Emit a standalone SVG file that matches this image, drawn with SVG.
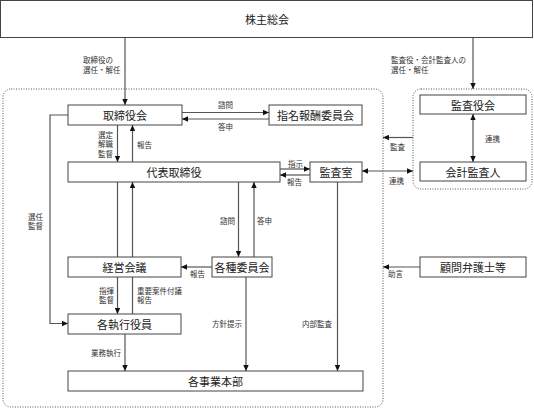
<svg xmlns="http://www.w3.org/2000/svg" width="534" height="409" viewBox="0 0 534 409">
<defs>
<marker id="ah" markerUnits="userSpaceOnUse" markerWidth="6" markerHeight="6" viewBox="0 0 6 6" refX="6" refY="3" orient="auto-start-reverse">
<path d="M0,0.3 L6,3 L0,5.7 Z" fill="#111"/>
</marker>
</defs>
<style>
.box{fill:#fff;stroke:#444;stroke-width:1}
.frame{fill:none;stroke:#555;stroke-width:1;stroke-dasharray:1 1.5}
.bt{font-family:"Noto Sans CJK JP","Noto Sans",sans-serif;font-size:11px;fill:#222;text-anchor:middle;dominant-baseline:central}
.lt{font-family:"Noto Sans CJK JP","Noto Sans",sans-serif;font-size:7.5px;fill:#333;dominant-baseline:central}
.c{fill:none;stroke:#555;stroke-width:1.2}
.a{marker-end:url(#ah)}
.d{marker-start:url(#ah);marker-end:url(#ah)}
</style>
<rect width="534" height="409" fill="#fff"/>
<g id="frames">
<rect class="frame" x="3" y="89" width="380" height="318" rx="8"/>
<rect class="frame" x="413" y="89" width="119" height="100" rx="8"/>
</g>
<g id="connectors">
<line class="c a" x1="125" y1="38" x2="125" y2="105"/>
<line class="c a" x1="473" y1="38" x2="473" y2="89"/>
<line class="c a" x1="182" y1="112.5" x2="269" y2="112.5"/>
<line class="c a" x1="269" y1="119" x2="182" y2="119"/>
<line class="c a" x1="117.5" y1="125" x2="117.5" y2="162"/>
<line class="c a" x1="132.5" y1="162" x2="132.5" y2="125"/>
<line class="c" x1="117.5" y1="182" x2="117.5" y2="257"/>
<line class="c a" x1="132.5" y1="257" x2="132.5" y2="182"/>
<line class="c a" x1="117.5" y1="277" x2="117.5" y2="314"/>
<line class="c" x1="132.5" y1="314" x2="132.5" y2="277"/>
<line class="c a" x1="125" y1="334" x2="125" y2="371"/>
<polyline class="c a" points="68,115 50,115 50,323.5 68,323.5"/>
<line class="c a" x1="238.5" y1="182" x2="238.5" y2="257"/>
<line class="c a" x1="254" y1="257" x2="254" y2="182"/>
<line class="c a" x1="212" y1="267" x2="181" y2="267"/>
<line class="c a" x1="246" y1="277" x2="246" y2="371"/>
<line class="c a" x1="337.5" y1="182" x2="337.5" y2="371"/>
<line class="c a" x1="280" y1="169" x2="310" y2="169"/>
<line class="c a" x1="310" y1="175" x2="280" y2="175"/>
<line class="c d" x1="362" y1="171" x2="413" y2="171"/>
<line class="c a" x1="413" y1="137.5" x2="383" y2="137.5"/>
<line class="c d" x1="473" y1="114" x2="473" y2="162"/>
<line class="c a" x1="420" y1="267" x2="383" y2="267"/>
</g>
<g id="labels">
<text class="lt" x="83" y="59.5">取締役の</text>
<text class="lt" x="83" y="69">選任・解任</text>
<text class="lt" x="391" y="59.5">監査役・会計監査人の</text>
<text class="lt" x="391" y="69">選任・解任</text>
<text class="lt" x="218" y="104.5">諮問</text>
<text class="lt" x="218" y="126.5">答申</text>
<text class="lt" x="98" y="134">選定</text>
<text class="lt" x="98" y="143.5">解職</text>
<text class="lt" x="98" y="153">監督</text>
<text class="lt" x="137" y="144">報告</text>
<text class="lt" x="28" y="216">選任</text>
<text class="lt" x="28" y="225.5">監督</text>
<text class="lt" x="99" y="290">指揮</text>
<text class="lt" x="99" y="299.5">監督</text>
<text class="lt" x="137" y="290">重要案件付議</text>
<text class="lt" x="137" y="299.5">報告</text>
<text class="lt" x="91" y="352">業務執行</text>
<text class="lt" x="220" y="220">諮問</text>
<text class="lt" x="257" y="220">答申</text>
<text class="lt" x="190" y="273.5">報告</text>
<text class="lt" x="212" y="323">方針提示</text>
<text class="lt" x="302" y="323">内部監査</text>
<text class="lt" x="288" y="163">指示</text>
<text class="lt" x="287" y="181.5">報告</text>
<text class="lt" x="389" y="180.5">連携</text>
<text class="lt" x="390" y="146">監査</text>
<text class="lt" x="485" y="138">連携</text>
<text class="lt" x="388" y="273">助言</text>
</g>
<g id="n-shareholders"><rect class="box" x="0.5" y="0.5" width="532" height="37"/><text class="bt" x="267" y="19">株主総会</text></g>
<g id="n-board"><rect class="box" x="68" y="105" width="114" height="20"/><text class="bt" x="125" y="115">取締役会</text></g>
<g id="n-nomination"><rect class="box" x="269" y="105" width="93" height="20"/><text class="bt" x="315.5" y="115">指名報酬委員会</text></g>
<g id="n-ceo"><rect class="box" x="68" y="162" width="212" height="20"/><text class="bt" x="174" y="172">代表取締役</text></g>
<g id="n-audit-office"><rect class="box" x="310" y="162" width="52" height="20"/><text class="bt" x="336" y="172">監査室</text></g>
<g id="n-auditors"><rect class="box" x="420" y="95" width="106" height="19"/><text class="bt" x="473" y="104.5">監査役会</text></g>
<g id="n-accounting-auditor"><rect class="box" x="420" y="162" width="106" height="19"/><text class="bt" x="473" y="171.5">会計監査人</text></g>
<g id="n-mgmt"><rect class="box" x="68" y="257" width="113" height="20"/><text class="bt" x="124.5" y="267">経営会議</text></g>
<g id="n-committees"><rect class="box" x="212" y="257" width="60" height="20"/><text class="bt" x="242" y="267">各種委員会</text></g>
<g id="n-lawyers"><rect class="box" x="420" y="257" width="106" height="20"/><text class="bt" x="473" y="267">顧問弁護士等</text></g>
<g id="n-officers"><rect class="box" x="68" y="314" width="113" height="20"/><text class="bt" x="124.5" y="324">各執行役員</text></g>
<g id="n-divisions"><rect class="box" x="68" y="371" width="295" height="20"/><text class="bt" x="215.5" y="381">各事業本部</text></g>
</svg>
